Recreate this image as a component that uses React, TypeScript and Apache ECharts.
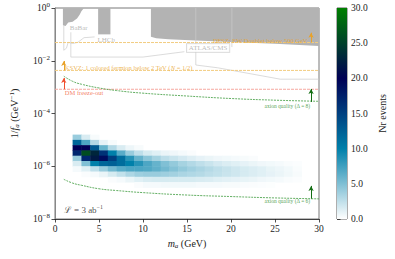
import React, { useEffect, useRef } from 'react';
import * as echarts from 'echarts';

// ---------- data ----------
const massBinStart = [2, 3, 4, 5, 6, 7, 8, 9, 10, 11, 12, 13, 14, 15, 16, 17, 18, 19, 20, 21, 22, 23, 24, 25, 26, 27];
const massBinWidth = 1;
const logInvFaBinTop = [-4.8, -5.0, -5.2, -5.4, -5.6, -5.8, -6.0, -6.2, -6.4, -6.6];
const logInvFaBinHeight = 0.2;
const nrEvents = [
  [4, 1.5, 0.3, 0, 0, 0, 0, 0, 0, 0, 0, 0, 0, 0, 0, 0, 0, 0, 0, 0, 0, 0, 0, 0, 0, 0],
  [12, 7, 3, 1, 0.3, 0, 0, 0, 0, 0, 0, 0, 0, 0, 0, 0, 0, 0, 0, 0, 0, 0, 0, 0, 0, 0],
  [20, 20, 13, 6, 3, 1.5, 0.7, 0.3, 0, 0, 0, 0, 0, 0, 0, 0, 0, 0, 0, 0, 0, 0, 0, 0, 0, 0],
  [17, 26, 23, 16, 10, 6.5, 4, 2.5, 1.6, 1.2, 0.8, 0.6, 0.4, 0.2, 0, 0, 0, 0, 0, 0, 0, 0, 0, 0, 0, 0],
  [4, 17, 22, 19, 15, 11.5, 8.5, 6, 4.5, 3.5, 2.6, 2.1, 1.7, 1.3, 1, 0.8, 0.6, 0.5, 0.4, 0.3, 0.2, 0, 0, 0, 0, 0],
  [1.5, 5, 10, 12, 12.5, 11.5, 10, 8.5, 7, 6, 5, 4.2, 3.5, 3, 2.5, 2.1, 1.7, 1.4, 1.2, 1, 0.8, 0.6, 0.5, 0.4, 0.25, 0.15],
  [0.4, 1.2, 2.5, 4, 5.5, 6.5, 7, 7, 6.8, 6.2, 5.5, 4.8, 4.2, 3.7, 3.3, 2.9, 2.5, 2.2, 1.9, 1.6, 1.4, 1.2, 0.9, 0.7, 0.5, 0.25],
  [0, 0.2, 0.4, 0.8, 1.6, 2.4, 3.2, 3.8, 4, 4, 3.8, 3.6, 3.3, 3.1, 2.9, 2.6, 2.4, 2.1, 1.9, 1.6, 1.4, 1.2, 1, 0.8, 0.55, 0.3],
  [0, 0, 0, 0, 0.2, 0.4, 0.8, 1.2, 1.5, 1.6, 1.6, 1.6, 1.6, 1.6, 1.5, 1.4, 1.2, 1.1, 1, 0.9, 0.8, 0.6, 0.5, 0.4, 0.25, 0.15],
  [0, 0, 0, 0, 0, 0, 0, 0.2, 0.4, 0.4, 0.5, 0.5, 0.5, 0.5, 0.4, 0.4, 0.4, 0.3, 0.3, 0.25, 0.2, 0.15, 0.1, 0, 0, 0],
];

const qualityMass = [1, 2, 3, 5, 7, 10, 15, 20, 25, 30];
const quality8InvFa = [2.6e-3, 1.66e-3, 1.29e-3, 9.3e-4, 7.4e-4, 5.9e-4, 4.6e-4, 3.7e-4, 3.2e-4, 2.9e-4];
const quality6InvFa = [3.2e-7, 2.3e-7, 1.9e-7, 1.4e-7, 1.2e-7, 1.0e-7, 8.1e-8, 7.1e-8, 6.3e-8, 5.8e-8];

const lineMassRange = [0, 30];
const dfszInvFa = 0.049;
const ksvzInvFa = 4.3e-3;
const dmFreezeOutInvFa = 8.3e-4;

const babarMass = [0.9, 1.2, 1.5, 2.0, 2.5, 2.8, 3.0, 3.25];
const babarInvFa = [0.22, 0.21, 0.28, 0.3, 0.4, 0.56, 0.76, 0.95];
const lhcbMass = [4.9, 6.3];
const lhcbInvFa = [0.1, 0.1];
const atlasMass = [10.9, 11.5, 12.9, 16, 20, 25, 30];
const atlasInvFa = [0.081, 0.071, 0.065, 0.058, 0.051, 0.044, 0.036];
const exclusionTop = 1;

const outlineA = [[1.0, 0.22], [1.0, 0.025], [1.3, 0.03], [1.5, 0.05], [2.0, 0.045], [2.6, 0.05], [3.3, 0.075], [4.5, 0.08]];
const outlineB = [[1.8, 0.12], [1.8, 0.0138], [10.0, 0.0138], [14.7, 0.022]];
const outlineC = [[16.0, 1], [16.0, 0.0069], [18.5, 0.0054], [25.6, 0.002], [30, 0.002]];
const outlineD = [[20.1, 1], [20.1, 0.033]];

const colorbarRange = [0, 30];
const oceanR = ['#ffffff', '#0080aa', '#000055', '#008000'];

const FONT = "'Liberation Serif', 'DejaVu Serif', serif";

function zip(xs: number[], ys: number[]) {
  return xs.map((x, i) => [x, ys[i]]);
}

function buildHeatCells() {
  const cells: number[][] = [];
  nrEvents.forEach((row, r) => {
    row.forEach((v, c) => {
      if (v <= 0) return;
      const x0 = massBinStart[c];
      const top = logInvFaBinTop[r];
      cells.push([x0, x0 + massBinWidth, Math.pow(10, top - logInvFaBinHeight), Math.pow(10, top), v]);
    });
  });
  return cells;
}

function textPoint(x: number, y: number, text: string, label: any) {
  return {
    value: [x, y],
    label: { show: true, formatter: text, position: [0, 0], ...label },
  };
}

function regionSeries(mass: number[], invFa: number[], fill: string) {
  const pts = [[mass[0], exclusionTop], ...zip(mass, invFa), [mass[mass.length - 1], exclusionTop]];
  return {
    type: 'custom', xAxisIndex: 0, yAxisIndex: 0, data: pts, encode: { x: 0, y: 1 }, silent: true, z: 2, clip: true,
    renderItem: (params: any, api: any) => {
      if (params.dataIndex !== 0) return null;
      const poly = pts.map((p) => api.coord(p));
      return { type: 'polygon', shape: { points: poly }, style: { fill } };
    },
  };
}

const App: React.FC = () => {
  const ref = useRef<HTMLDivElement>(null);
  useEffect(() => {
    if (!ref.current) return;
    const chart = echarts.init(ref.current, null, { renderer: 'svg' });
    const supRich = { sup: { fontSize: 7, fontFamily: FONT, padding: [0, 0, 6, 0] } };
    const orange = '#e8a22a';
    const gray = '#b3b3b3';
    const outlineStyle = { color: '#cccccc', width: 0.7 };
    const hLine = (y: number) => lineMassRange.map((x) => [x, y]);

    const option: any = {
      animation: false,
      grid: [
        { left: 52, top: 8, width: 267, height: 211, show: true, borderColor: '#555', borderWidth: 0.8, backgroundColor: 'transparent' },
        { left: 337, top: 8, width: 10, height: 211, show: true, borderColor: '#333', borderWidth: 0.8, backgroundColor: 'transparent' },
      ],
      xAxis: [
        {
          type: 'value', gridIndex: 0, min: 0, max: 30, interval: 5,
          axisLine: { onZero: false, lineStyle: { color: '#222', width: 0.8 } },
          axisTick: { length: 3.5, lineStyle: { color: '#222', width: 0.8 } },
          axisLabel: { fontFamily: FONT, fontSize: 9.5, color: '#222', margin: 5 },
          splitLine: { show: false },
          name: '{i|m}{sub|a} (GeV)', nameLocation: 'middle', nameGap: 17,
          nameTextStyle: {
            fontFamily: FONT, fontSize: 10, color: '#222',
            rich: {
              i: { fontStyle: 'italic', fontFamily: FONT, fontSize: 10 },
              sub: { fontStyle: 'italic', fontFamily: FONT, fontSize: 7, padding: [4, 0, 0, 0] },
            },
          },
        },
        { type: 'value', gridIndex: 1, min: 0, max: 1, show: false },
      ],
      yAxis: [
        {
          type: 'log', gridIndex: 0, min: 1e-8, max: 1, interval: 2, logBase: 10,
          axisLine: { lineStyle: { color: '#888', width: 1 } },
          axisTick: { length: 3.5, lineStyle: { color: '#222', width: 0.8 } },
          axisLabel: {
            fontFamily: FONT, fontSize: 9.5, color: '#222', margin: 5,
            formatter: (v: number) => {
              const e = Math.round(Math.log10(v));
              return e === 0 ? '10{sup|0}' : '10{sup|\u2212' + -e + '}';
            },
            rich: supRich,
          },
          minorTick: { show: false },
          splitLine: { show: false },
          name: '1/{i|f}{sub|a} (GeV{sup|\u22121})', nameLocation: 'middle', nameGap: 34,
          nameTextStyle: {
            fontFamily: FONT, fontSize: 10, color: '#222',
            rich: {
              i: { fontStyle: 'italic', fontFamily: FONT, fontSize: 10 },
              sub: { fontStyle: 'italic', fontFamily: FONT, fontSize: 7, padding: [4, 0, 0, 0] },
              sup: { fontFamily: FONT, fontSize: 7, padding: [0, 0, 6, 0] },
            },
          },
        },
        {
          type: 'value', gridIndex: 1, min: colorbarRange[0], max: colorbarRange[1], interval: 5, position: 'right',
          axisLine: { show: false },
          axisTick: { show: true, length: 3.5, lineStyle: { color: '#222', width: 0.8 } },
          axisLabel: { fontFamily: FONT, fontSize: 9.5, color: '#222', margin: 4, formatter: (v: number) => v.toFixed(1) },
          splitLine: { show: false },
          name: 'Nr events', nameLocation: 'middle', nameGap: 30, nameRotate: 90,
          nameTextStyle: { fontFamily: FONT, fontSize: 10, color: '#222' },
        },
      ],
      visualMap: {
        type: 'continuous', show: false, min: colorbarRange[0], max: colorbarRange[1], dimension: 4, seriesIndex: 0,
        inRange: { color: oceanR },
      },
      series: [
        {
          type: 'custom', xAxisIndex: 0, yAxisIndex: 0, data: buildHeatCells(),
          encode: { x: [0, 1], y: [2, 3] }, clip: true, z: 1, silent: true,
          renderItem: (_p: any, api: any) => {
            const p0 = api.coord([api.value(0), api.value(3)]);
            const p1 = api.coord([api.value(1), api.value(2)]);
            return {
              type: 'rect',
              shape: { x: p0[0], y: p0[1], width: p1[0] - p0[0] + 0.5, height: p1[1] - p0[1] + 0.5 },
              style: { fill: api.visual('color') },
            };
          },
        },
        {
          type: 'custom', xAxisIndex: 1, yAxisIndex: 1, data: [[0, 1, colorbarRange[0], colorbarRange[1]]],
          encode: { x: [0, 1], y: [2, 3] }, silent: true,
          renderItem: (_p: any, api: any) => {
            const p0 = api.coord([api.value(0), api.value(3)]);
            const p1 = api.coord([api.value(1), api.value(2)]);
            return {
              type: 'rect',
              shape: { x: p0[0], y: p0[1], width: p1[0] - p0[0], height: p1[1] - p0[1] },
              style: {
                fill: new echarts.graphic.LinearGradient(0, 0, 0, 1, [
                  { offset: 0, color: oceanR[3] },
                  { offset: 1 / 3, color: oceanR[2] },
                  { offset: 2 / 3, color: oceanR[1] },
                  { offset: 1, color: oceanR[0] },
                ]),
              },
            };
          },
        },
        regionSeries(babarMass, babarInvFa, gray),
        regionSeries(lhcbMass, lhcbInvFa, gray),
        regionSeries(atlasMass, atlasInvFa, gray),
        ...[outlineA, outlineB, outlineC, outlineD].map((d) => ({
          type: 'line', xAxisIndex: 0, yAxisIndex: 0, data: d, showSymbol: false, silent: true, z: 2,
          lineStyle: outlineStyle,
        })),
        {
          type: 'line', data: hLine(dfszInvFa), showSymbol: false, silent: true, z: 3,
          lineStyle: { color: '#f2cc80', width: 1, type: [3, 1] },
          markLine: {
            silent: true, symbol: ['none', 'arrow'], symbolSize: [4, 5], label: { show: false },
            lineStyle: { color: orange, width: 1, type: 'solid' },
            data: [[{ coord: [29.1, dfszInvFa] }, { coord: [29.1, 0.115] }]],
          },
        },
        {
          type: 'line', data: hLine(ksvzInvFa), showSymbol: false, silent: true, z: 3,
          lineStyle: { color: '#f2cc80', width: 1, type: [3, 1] },
          markLine: {
            silent: true, symbol: ['none', 'arrow'], symbolSize: [4, 5], label: { show: false },
            lineStyle: { color: orange, width: 1, type: 'solid' },
            data: [[{ coord: [1.0, ksvzInvFa] }, { coord: [1.0, 9.8e-3] }]],
          },
        },
        {
          type: 'line', data: hLine(dmFreezeOutInvFa), showSymbol: false, silent: true, z: 3,
          lineStyle: { color: '#f6a8a0', width: 1, type: [3, 1] },
          markLine: {
            silent: true, symbol: ['none', 'arrow'], symbolSize: [4, 5], label: { show: false },
            lineStyle: { color: '#f05030', width: 1, type: 'solid' },
            data: [[{ coord: [1.0, dmFreezeOutInvFa] }, { coord: [1.0, 2.2e-3] }]],
          },
        },
        {
          type: 'line', data: zip(qualityMass, quality8InvFa), showSymbol: false, silent: true, z: 3, smooth: true,
          lineStyle: { color: '#3c9a3c', width: 0.8, type: [2, 1] },
          markLine: {
            silent: true, symbol: ['none', 'arrow'], symbolSize: [4, 5], label: { show: false },
            lineStyle: { color: '#146e14', width: 1, type: 'solid' },
            data: [[{ coord: [29.1, 2.75e-4] }, { coord: [29.1, 8.5e-4] }]],
          },
        },
        {
          type: 'line', data: zip(qualityMass, quality6InvFa), showSymbol: false, silent: true, z: 3, smooth: true,
          lineStyle: { color: '#3c9a3c', width: 0.8, type: [2, 1] },
          markLine: {
            silent: true, symbol: ['none', 'arrow'], symbolSize: [4, 5], label: { show: false },
            lineStyle: { color: '#146e14', width: 1, type: 'solid' },
            data: [[{ coord: [29.1, 5.9e-8] }, { coord: [29.1, 1.8e-7] }]],
          },
        },
        {
          type: 'scatter', symbolSize: 0, silent: true, z: 6,
          label: { show: true, fontFamily: FONT },
          data: [
            textPoint(2.7, 0.174, 'BaBar', { fontSize: 7, color: '#aaaaaa', align: 'center', verticalAlign: 'middle' }),
            textPoint(4.83, 0.059, 'LHCb', { fontSize: 7, color: '#aaaaaa', align: 'left', verticalAlign: 'middle' }),
            textPoint(17.4, 0.0305, 'ATLAS/CMS', {
              fontSize: 7, color: '#aaaaaa', align: 'center', verticalAlign: 'middle',
              borderColor: '#cccccc', borderWidth: 0.8, padding: [1, 2, 0, 2], backgroundColor: '#fff',
            }),
            textPoint(28.7, 0.06, 'DFSZ: EW Doublet below 500 GeV', { fontSize: 6.5, color: orange, align: 'right', verticalAlign: 'middle' }),
            textPoint(1.12, 5.6e-3, 'KSVZ: 1 colored fermion below 2 TeV ({i|N} = 1/2)', {
              fontSize: 6.5, color: orange, align: 'left', verticalAlign: 'middle',
              rich: { i: { fontStyle: 'italic', fontFamily: FONT, fontSize: 6.5, color: orange } },
            }),
            textPoint(1.12, 6.0e-4, 'DM freeze-out', { fontSize: 6.5, color: '#f06040', align: 'left', verticalAlign: 'middle' }),
            textPoint(29.0, 1.95e-4, 'axion quality (\u0394 = 8)', { fontSize: 5.5, color: '#2a8a2a', align: 'right', verticalAlign: 'middle' }),
            textPoint(29.0, 4.7e-8, 'axion quality (\u0394 = 6)', { fontSize: 5.5, color: '#2a8a2a', align: 'right', verticalAlign: 'middle' }),
            textPoint(1.0, 2.2e-8, '\u2112 = 3 ab{sup|\u22121}', {
              fontSize: 9, color: '#222', align: 'left', verticalAlign: 'middle',
              rich: { sup: { fontSize: 6, fontFamily: FONT, color: '#222', padding: [0, 0, 5, 0] } },
            }),
          ],
        },
      ],
    };
    chart.setOption(option);
    return () => chart.dispose();
  }, []);
  return <div ref={ref} style={{ position: 'fixed', left: 0, top: 0, width: 395, height: 259, background: '#fff' }} />;
};

export default App;
